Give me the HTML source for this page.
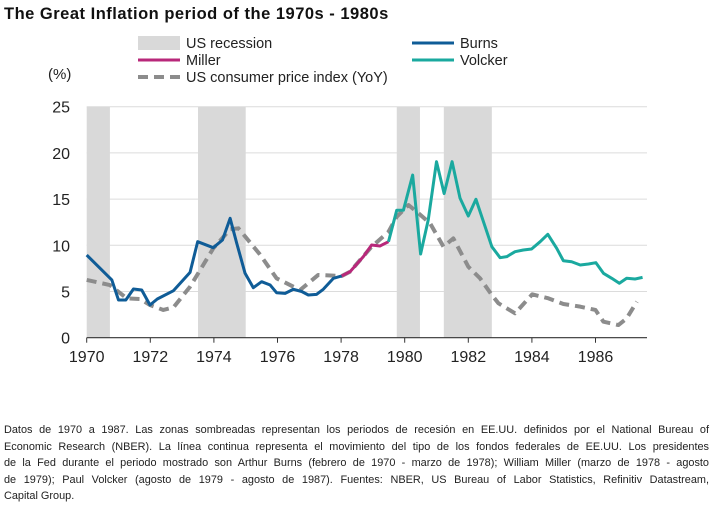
<!DOCTYPE html>
<html><head><meta charset="utf-8"><style>
body{margin:0;width:722px;height:519px;background:#fff;font-family:"Liberation Sans",sans-serif;overflow:hidden;position:relative}
#title{position:absolute;left:4px;top:5px;font-size:16.5px;letter-spacing:0.5px;font-weight:bold;color:#111}
.fn{position:absolute;left:4px;width:705px;font-size:10.9px;color:#222;line-height:16.5px;top:422px}
.fn div{text-align:justify;text-align-last:justify;white-space:nowrap}
.fn div.last{text-align-last:left}
</style></head><body>
<div id="title">The Great Inflation period of the 1970s - 1980s</div>
<svg id="chart" width="722" height="420" style="position:absolute;left:0;top:0"></svg>
<div class="fn">
<div>Datos de 1970 a 1987. Las zonas sombreadas representan los periodos de recesión en EE.UU. definidos por el National Bureau of</div>
<div>Economic Research (NBER). La línea continua representa el movimiento del tipo de los fondos federales de EE.UU. Los presidentes</div>
<div>de la Fed durante el periodo mostrado son Arthur Burns (febrero de 1970 - marzo de 1978); William Miller (marzo de 1978 - agosto</div>
<div>de 1979); Paul Volcker (agosto de 1979 - agosto de 1987). Fuentes: NBER, US Bureau of Labor Statistics, Refinitiv Datastream,</div>
<div class="last">Capital Group.</div>
</div>
<script>
const recessions=[[1970.0,1970.73],[1973.5,1975.0],[1979.75,1980.48],[1981.23,1982.74]];
const yTicks=[0,5,10,15,20,25];
const xTicks=[1970,1972,1974,1976,1978,1980,1982,1984,1986];
const burnsX=[1970.0,1970.79,1971.0,1971.23,1971.47,1971.73,1971.99,1972.22,1972.73,1973.25,1973.49,1973.98,1974.27,1974.51,1974.72,1974.98,1975.24,1975.5,1975.77,1975.97,1976.24,1976.5,1976.76,1976.97,1977.23,1977.44,1977.76,1978.02];
const burnsY=[8.95,6.25,4.08,4.08,5.27,5.16,3.54,4.19,5.09,7.07,10.39,9.74,10.57,12.92,10.2,6.97,5.41,6.06,5.7,4.87,4.8,5.24,5.0,4.62,4.69,5.24,6.43,6.68];
const millerX=[1978.02,1978.28,1978.7,1978.96,1979.22,1979.49];
const millerY=[6.68,7.14,8.77,10.03,9.92,10.39];
const volckerX=[1979.49,1979.75,1979.96,1980.25,1980.5,1980.74,1981.0,1981.24,1981.49,1981.74,1982.0,1982.24,1982.74,1983.0,1983.21,1983.47,1983.73,1983.99,1984.26,1984.5,1984.78,1984.99,1985.25,1985.52,1985.78,1986.01,1986.25,1986.51,1986.75,1986.98,1987.24,1987.48];
const volckerY=[10.39,13.8,13.8,17.6,9.06,12.74,19.05,15.6,19.05,15.1,13.17,14.98,9.85,8.66,8.77,9.31,9.49,9.6,10.39,11.19,9.67,8.33,8.22,7.87,7.98,8.12,6.97,6.43,5.89,6.43,6.35,6.53];
const cpiX=[1970.0,1970.73,1971.26,1971.68,1971.99,1972.41,1972.73,1973.25,1973.98,1974.51,1974.77,1975.45,1975.97,1976.71,1977.28,1978.02,1978.28,1978.96,1979.49,1979.75,1980.12,1980.38,1980.8,1981.22,1981.53,1982.0,1982.37,1982.74,1982.95,1983.47,1984.01,1984.52,1984.99,1985.52,1986.0,1986.25,1986.72,1986.98,1987.3];
const cpiY=[6.25,5.7,4.26,4.19,3.54,3.0,3.28,5.52,9.67,11.73,11.84,9.0,6.43,5.16,6.79,6.68,7.14,9.85,11.46,13.09,14.35,13.63,12.37,9.85,10.75,7.68,6.43,4.62,3.72,2.64,4.69,4.26,3.65,3.36,3.0,1.73,1.37,2.09,3.9];

const svg=document.getElementById('chart');
const NS='http://www.w3.org/2000/svg';
const X=v=>86.7+(v-1970)*31.8;
const Y=v=>337.7-v*9.24;
function mk(tag,a){const e=document.createElementNS(NS,tag);for(const k in a)e.setAttribute(k,a[k]);svg.appendChild(e);return e;}
yTicks.forEach(t=>{
 if(t>0){const g=mk('line',{x1:86.7,x2:647,y1:Y(t),y2:Y(t),stroke:'#dcdcdc','stroke-width':1});
 
 }
 const l=mk('text',{x:70,y:Y(t)+6,'text-anchor':'end','font-size':16,fill:'#222'});l.textContent=t;
 
 
});
recessions.forEach(r=>{
 const e=mk('rect',{x:X(r[0]),y:Y(25),width:X(r[1])-X(r[0]),height:Y(0)-Y(25),fill:'#d9d9d9'});
 
 
});
const ax=mk('line',{x1:86.7,x2:647,y1:Y(0),y2:Y(0),stroke:'#333','stroke-width':1.2});


xTicks.forEach(t=>{
 mk('line',{x1:X(t),x2:X(t),y1:Y(0),y2:Y(0)+5,stroke:'#333'});
 const l=mk('text',{x:X(t),y:362,'text-anchor':'middle','font-size':16,fill:'#222'});l.textContent=t;
 
 
});
function line(xs,ys,col,name,dash){
 const p=mk('polyline',{points:xs.map((x,i)=>X(x)+','+Y(ys[i])).join(' '),fill:'none',stroke:col,'stroke-width':dash?4:3,'stroke-linejoin':'round','stroke-dasharray':dash?'10,6':'none'});
 
 
}
line(cpiX,cpiY,'#8c8c8c','cpi-line',true);
line(burnsX,burnsY,'#0f5c97','burns-line');
line(millerX,millerY,'#b8287a','miller-line');
line(volckerX,volckerY,'#1aa99f','volcker-line');
const u=mk('text',{x:48,y:79,'font-size':15,fill:'#222'});u.textContent='(%)';


function leg(x,y,type,col,label){
 if(type==='rect')mk('rect',{x:x,y:y-7,width:42,height:14,fill:col});
 else mk('line',{x1:x,x2:x+42,y1:y,y2:y,stroke:col,'stroke-width':type==='dash'?4:3,'stroke-dasharray':type==='dash'?'10,6':'none'});
 const t=mk('text',{x:x+48,y:y+5,'font-size':14.5,fill:'#222'});t.textContent=label;
 
 
}
leg(138,43,'rect','#d9d9d9','US recession');
leg(412,43,'line','#0f5c97','Burns');
leg(138,60,'line','#b8287a','Miller');
leg(412,60,'line','#1aa99f','Volcker');
leg(138,77,'dash','#8c8c8c','US consumer price index (YoY)');
</script>
</body></html>
